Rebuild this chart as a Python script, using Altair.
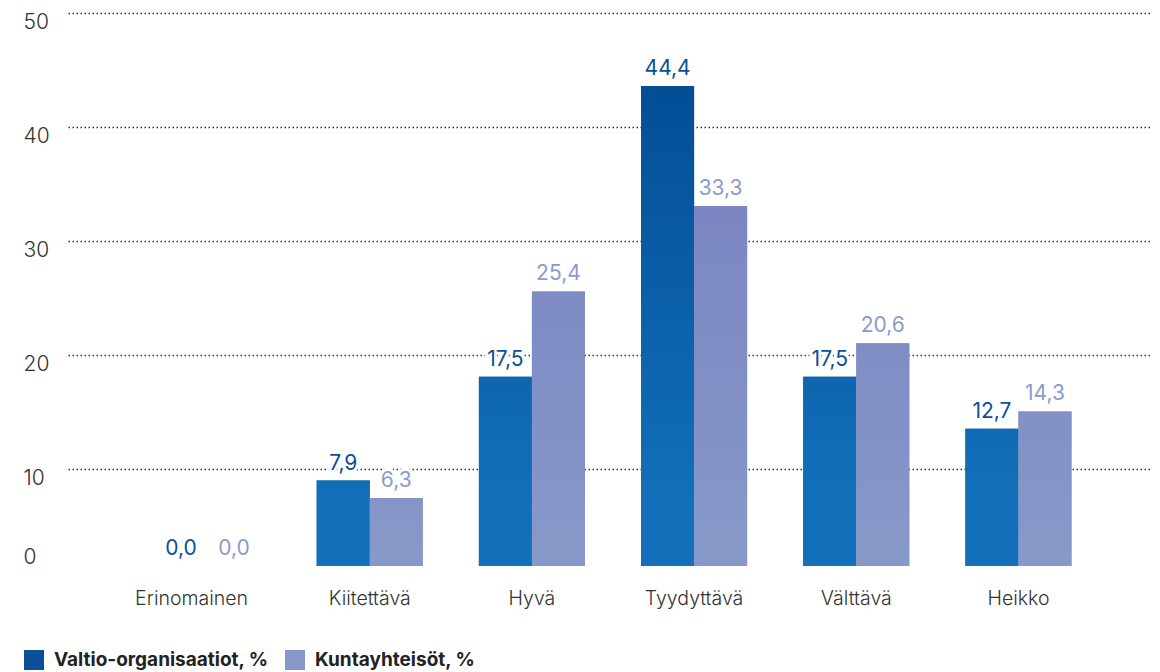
import altair as alt
import pandas as pd

categories = ["Erinomainen", "Kiitettävä", "Hyvä", "Tyydyttävä", "Välttävä", "Heikko"]
series_names = ["Valtio-organisaatiot, %", "Kuntayhteisöt, %"]
valtio = [0.0, 7.9, 17.5, 44.4, 17.5, 12.7]
kunta = [0.0, 6.3, 25.4, 33.3, 20.6, 14.3]
y_ticks = [0, 10, 20, 30, 40, 50]

rows = []
for c, v in zip(categories, valtio):
    rows.append({"cat": c, "series": series_names[0], "value": v})
for c, v in zip(categories, kunta):
    rows.append({"cat": c, "series": series_names[1], "value": v})
df = pd.DataFrame(rows)
grid_df = pd.DataFrame({"tick": y_ticks})

DARK = "#0b4f97"
LAV = "#8797c8"
FONT = "Inter"


def h2r(h):
    h = h.lstrip("#")
    return [int(h[i:i + 2], 16) for i in (0, 2, 4)]


def lerp(c1, c2, t):
    a, b = h2r(c1), h2r(c2)
    return "#" + "".join(f"{round(x + (y - x) * t):02x}" for x, y in zip(a, b))


# gradient styling: darker the higher the bar reaches
grad_style = {
    series_names[0]: ("#034e96", "#1170b9", 6.0, 44.4),
    series_names[1]: ("#7b86c2", "#8799c9", 0.0, 33.3),
}


def gradient(series, v):
    top, bot, lo, hi = grad_style[series]

    def col(level):
        t = min(max((level - lo) / (hi - lo), 0.0), 1.0)
        return lerp(bot, top, t)

    stops = [{"offset": 0, "color": col(v)}]
    if v > lo and lo > 0:
        stops.append({"offset": round((v - lo) / v, 4), "color": col(lo)})
    stops.append({"offset": 1, "color": col(lo)})
    return {"gradient": "linear", "x1": 0, "y1": 0, "x2": 0, "y2": 1, "stops": stops}


conds = []
for s, vals in zip(series_names, [valtio, kunta]):
    for c, v in zip(categories, vals):
        if v > 0:
            conds.append({"test": f"datum.series === '{s}' && datum.cat === '{c}'",
                          "value": gradient(s, v)})

bar_scale = alt.Scale(domain=[0, 51.16], range=[553, 0])

x_enc = alt.X(
    "cat:N", sort=categories, title=None,
    scale=alt.Scale(paddingInner=0.346, paddingOuter=0.515, align=0.518),
    axis=alt.Axis(domain=False, ticks=False, labelAngle=0, labelFontSize=19.5,
                  labelFont=FONT, labelFontWeight=300, labelColor="#333", labelPadding=6,
                  labelBaseline="top",
                  labelOffset={"condition": {"test": "datum.value === 'Erinomainen'", "value": -16}, "value": 0}),
)
xo_enc = alt.XOffset("series:N", sort=series_names, scale=alt.Scale(domain=series_names, paddingInner=0, paddingOuter=0))

grid = alt.Chart(grid_df).mark_point(opacity=0).encode(
    y=alt.Y("tick:Q", title=None, scale=alt.Scale(domain=[0, 50], nice=False),
            axis=alt.Axis(values=y_ticks, grid=True, gridDash=[1.5, 2.5], gridColor="#333",
                          gridWidth=1.3,
                          gridOpacity={"condition": {"test": "datum.value === 0", "value": 0}, "value": 1},
                          domain=False, ticks=False, tickSize=0, labelAlign="left",
                          labelPadding=45, labelFontSize=21, labelFont=FONT, labelFontWeight=300,
                          labelColor="#333",
                          labelOffset={"condition": {"test": "datum.value === 0", "value": -26}, "value": 9}))
)

base = alt.Chart(df)

bars_solid = base.mark_bar().encode(
    x=x_enc, xOffset=xo_enc,
    y=alt.Y("value:Q", scale=bar_scale, axis=None),
    color=alt.Color("series:N", scale=alt.Scale(domain=series_names, range=[DARK, LAV]),
                    legend=alt.Legend(orient="none", legendX=-44, legendY=637, direction="horizontal",
                                      symbolType="square", symbolSize=400, symbolStrokeWidth=0,
                                      labelFontSize=19, labelFontWeight="bold", labelFont=FONT,
                                      labelColor="#222", columnPadding=16, labelOffset=10,
                                      title=None, padding=0, labelLimit=400)),
)

bars_grad = base.mark_bar().encode(
    x=x_enc, xOffset=xo_enc,
    y=alt.Y("value:Q", scale=bar_scale, axis=None),
    color=alt.ColorValue(value=DARK, condition=conds),
)

txt_base = base.transform_calculate(
    label="replace(format(datum.value, '.1f'), '.', ',')"
)

text_bg = txt_base.mark_text(baseline="middle", dy=-17, fontSize=21, font=FONT, fontWeight=400,
                             stroke="white", strokeWidth=6, fill="white").encode(
    x=x_enc, xOffset=xo_enc,
    y=alt.Y("value:Q", scale=bar_scale, axis=None),
    text="label:N",
)

text_fg = txt_base.mark_text(baseline="middle", dy=-17, fontSize=21, font=FONT, fontWeight=400).encode(
    x=x_enc, xOffset=xo_enc,
    y=alt.Y("value:Q", scale=bar_scale, axis=None),
    text="label:N",
    color=alt.condition(f"datum.series === '{series_names[0]}'", alt.value(DARK), alt.value("#8a9bcc")),
)

chart = alt.layer(grid, bars_solid, bars_grad, text_bg, text_fg).resolve_scale(
    y="independent"
).properties(
    width=1084, height=570,
    padding={"left": 60, "top": 5, "right": 0, "bottom": 89},
    autosize=alt.AutoSizeParams(type="none"),
).configure_view(stroke=None)

chart.save("out.html", embed_options={"renderer": "svg", "actions": False})
